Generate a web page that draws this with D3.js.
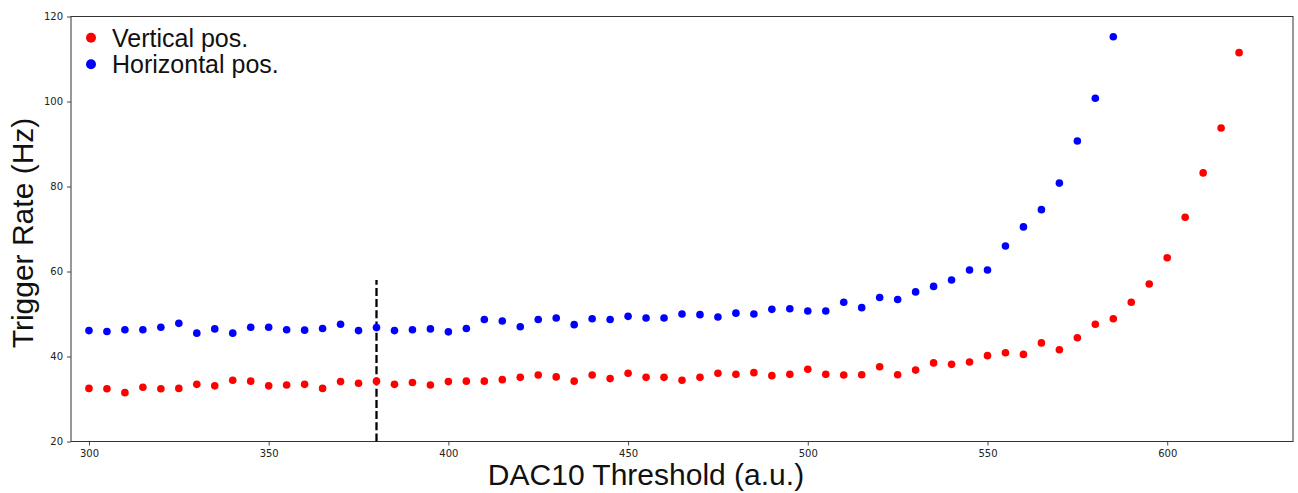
<!DOCTYPE html>
<html>
<head>
<meta charset="utf-8">
<script src="https://cdn.jsdelivr.net/npm/d3@7"></script>
<style>
    body { margin: 0; background: #fff; }
    .tick text { font-family: "DejaVu Sans", sans-serif; font-size: 10px; fill: #222; }
    .axis-label, .legend-label { font-family: "Liberation Sans", Arial, sans-serif; fill: #111; }
</style>
</head>
<body>
<svg id="chart" width="1298" height="493"></svg>
<script>
// DATA
const thresholds = d3.range(300, 625, 5)      // DAC10 steps, 300 .. 620

const verticalRate = [
    32.5, 32.4, 31.5, 32.75, 32.4, 32.5, 33.45, 33.1, 34.4, 34.2,
    33.1, 33.3, 33.45, 32.5, 34.1, 33.7, 34.2, 33.45, 33.9, 33.3,
    34.1, 34.2, 34.2, 34.55, 35.1, 35.65, 35.2, 34.2, 35.65, 34.8,
    36.05, 35.1, 35.1, 34.4, 35.1, 36.05, 35.8, 36.2, 35.5, 35.8,
    37.0, 35.8, 35.65, 35.7, 37.6, 35.7, 36.8, 38.5, 38.15, 38.7,
    40.2, 40.9, 40.5, 43.2, 41.6, 44.4, 47.6, 48.9, 52.75, 57.05,
    63.25, 72.75, 83.2, 93.75, 111.5
]

const horizontalRate = [
    46.1, 45.9, 46.3, 46.3, 46.9, 47.8, 45.5, 46.5, 45.5, 46.9,
    46.9, 46.3, 46.2, 46.6, 47.6, 46.1, 46.8, 46.1, 46.3, 46.5,
    45.8, 46.6, 48.7, 48.35, 47.0, 48.7, 49.05, 47.5, 48.9, 48.7,
    49.45, 49.05, 49.05, 50.0, 49.85, 49.3, 50.2, 50.0, 51.1, 51.25,
    50.7, 50.7, 52.75, 51.5, 53.9, 53.4, 55.2, 56.5, 58.0, 60.35,
    60.35, 66.0, 70.5, 74.55, 80.8, 90.7, 100.75, 115.25
]

const xTicks = [300, 350, 400, 450, 500, 550, 600]
const yTicks = [20, 40, 60, 80, 100, 120]

const cutLine = { x: 380, y0: 20, y1: 58 }     // dashed marker at the chosen threshold

const series = [
    { name: 'Vertical pos.',   color: '#ff0000', values: verticalRate },
    { name: 'Horizontal pos.', color: '#0000ff', values: horizontalRate }
]


// SETTINGS
const settings = {
    width: 1298,
    height: 493,
    margin: { top: 16.5, right: 5, bottom: 51.5, left: 71 },
    xDomain: [295, 635],
    yDomain: [20, 120],
    markerR: 3.8
}


// I. BUILD
renderVis(settings)

function renderVis(settings) {
    const svg = d3.select('#chart'),
        m = settings.margin,
        innerW = settings.width - m.left - m.right,
        innerH = settings.height - m.top - m.bottom

    const x = d3.scaleLinear().domain(settings.xDomain).range([m.left, m.left + innerW]),
        y = d3.scaleLinear().domain(settings.yDomain).range([m.top + innerH, m.top])

    // 1. Axes
    const xAxis = svg.append('g')
        .attr('transform', `translate(0,${m.top + innerH})`)
        .call(d3.axisBottom(x).tickValues(xTicks).tickSize(4).tickPadding(4))
    const yAxis = svg.append('g')
        .attr('transform', `translate(${m.left},0)`)
        .call(d3.axisLeft(y).tickValues(yTicks).tickSize(4).tickPadding(4))

    ;[xAxis, yAxis].forEach(g => {
        g.select('.domain').remove()
        g.selectAll('.tick line').attr('stroke', '#333').attr('stroke-width', 0.9)
    })

    // frame round the plot area
    svg.append('rect')
        .attr('x', m.left).attr('y', m.top)
        .attr('width', innerW).attr('height', innerH)
        .attr('fill', 'none').attr('stroke', '#333').attr('stroke-width', 1)

    // 2. Dashed threshold line
    svg.append('line')
        .attr('x1', x(cutLine.x)).attr('x2', x(cutLine.x))
        .attr('y1', y(cutLine.y0)).attr('y2', y(cutLine.y1))
        .attr('stroke', '#000').attr('stroke-width', 2.3)
        .attr('stroke-dasharray', '8,3.2')

    // 3. Points
    series.forEach(s => {
        svg.append('g').selectAll('circle')
            .data(s.values)
            .join('circle')
            .attr('cx', (d, i) => x(thresholds[i]))
            .attr('cy', d => y(d))
            .attr('r', settings.markerR)
            .attr('fill', s.color)
    })

    // 4. Axis labels
    svg.append('text').classed('axis-label', true)
        .attr('x', 646).attr('y', 485)
        .attr('text-anchor', 'middle')
        .style('font-size', '30px')
        .text('DAC10 Threshold (a.u.)')

    svg.append('text').classed('axis-label', true)
        .attr('transform', `translate(33,${(m.top + m.top + innerH) / 2 + 4}) rotate(-90)`)
        .attr('text-anchor', 'middle')
        .style('font-size', '30px')
        .text('Trigger Rate (Hz)')

    // 5. Legend
    const legend = svg.append('g')
    series.forEach((s, i) => {
        const cy = 37.7 + i * 26.6
        legend.append('circle')
            .attr('cx', 91).attr('cy', cy).attr('r', 5)
            .attr('fill', s.color)
        legend.append('text').classed('legend-label', true)
            .attr('x', 112).attr('y', cy + 9)
            .style('font-size', '25px')
            .text(s.name)
    })
}
</script>
</body>
</html>
